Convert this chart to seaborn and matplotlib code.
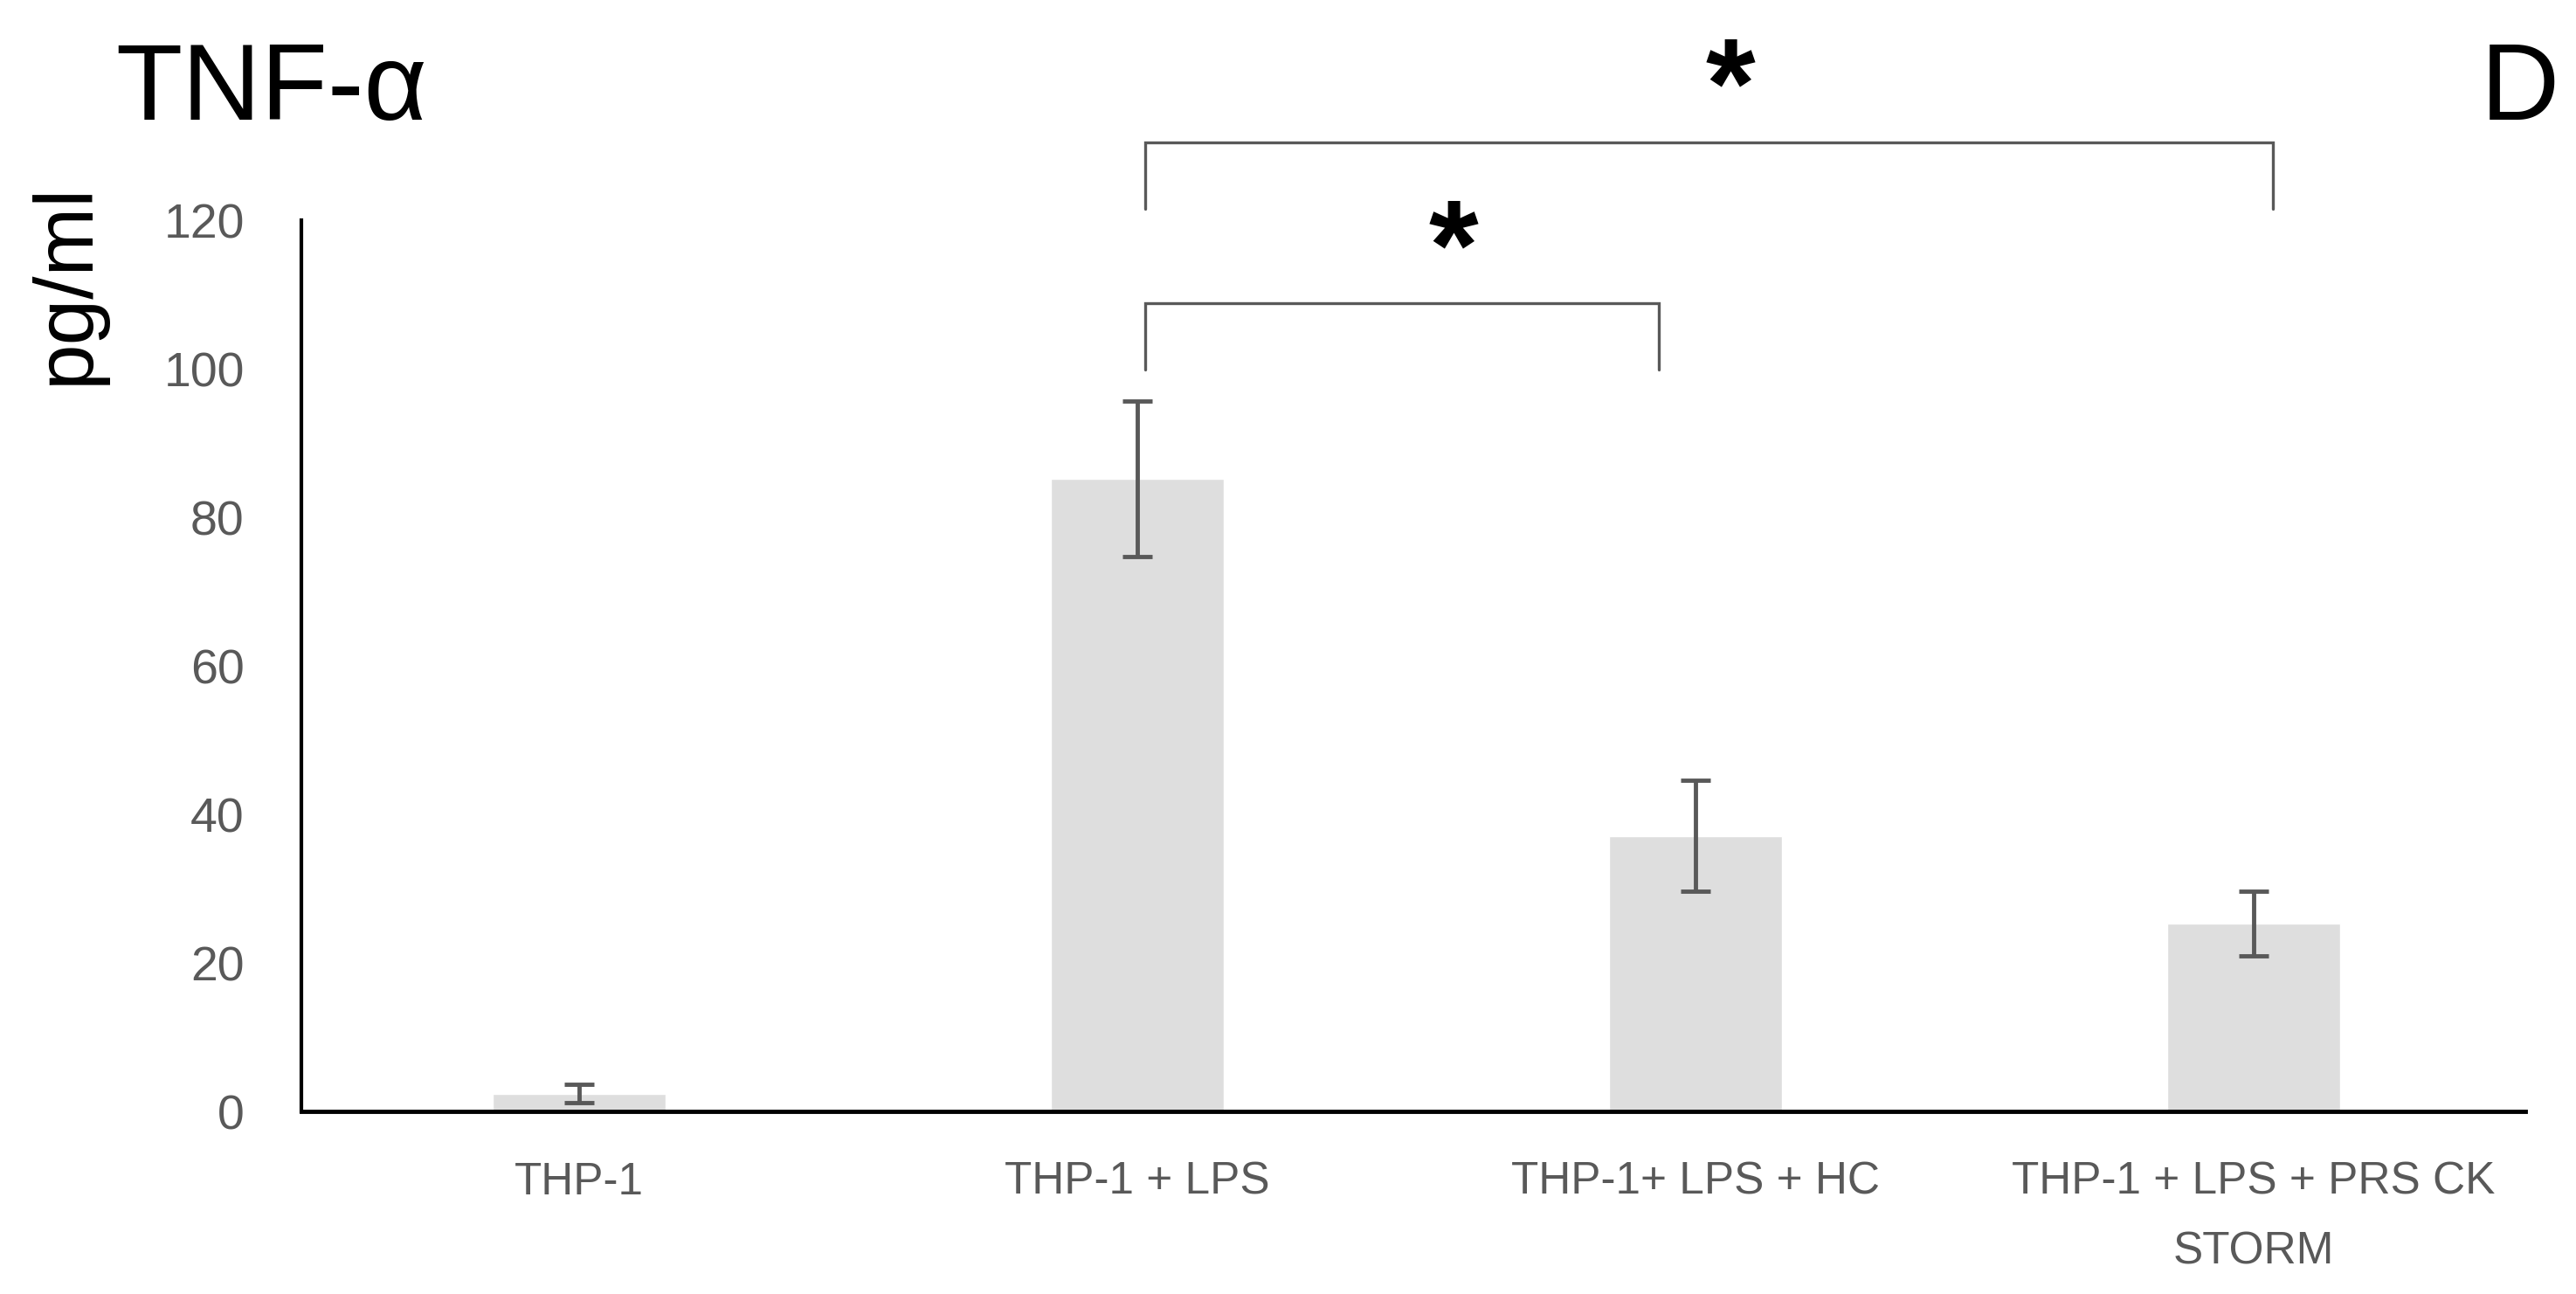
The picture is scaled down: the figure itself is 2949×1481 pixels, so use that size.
import matplotlib
matplotlib.use("Agg")
import matplotlib.pyplot as plt
from matplotlib import font_manager
import seaborn as sns
import pandas as pd

categories = ["THP-1", "THP-1 + LPS", "THP-1+ LPS + HC", "THP-1 + LPS + PRS CK\nSTORM"]
means = [2.4, 85.2, 37.1, 25.3]
errors = [1.2, 10.5, 7.5, 4.4]
yticks = [0, 20, 40, 60, 80, 100, 120]

sns.set_theme(style="white")
plt.rcParams['font.family'] = ['Liberation Sans', 'DejaVu Sans']

names = {f.name for f in font_manager.fontManager.ttflist}
if "Liberation Sans Narrow" in names:
    xfam, xsize = ["Liberation Sans Narrow", "Liberation Sans"], 45
else:
    xfam, xsize = ["Liberation Sans", "DejaVu Sans"], 37

df = pd.DataFrame({"group": categories, "value": means})

fig = plt.figure(figsize=(29.49, 14.81), dpi=100)
ax = fig.add_axes([0.11699, 0.14112, 0.86334, 0.68872])

sns.barplot(data=df, x="group", y="value", color="#dedede", saturation=1,
            width=0.31, errorbar=None, ax=ax)
ax.errorbar(range(len(categories)), means, yerr=errors, fmt="none",
            ecolor="#595959", elinewidth=3.5, capsize=12, capthick=3.5)

ax.set_xlim(-0.4977, 3.487)
ax.set_ylim(0, 120)
ax.set_yticks(yticks)
ax.set_yticklabels([str(t) for t in yticks], fontsize=40, color="#595959")
ax.set_xticks(range(len(categories)))
ax.set_xticklabels(categories, fontsize=xsize, color="#595959", family=xfam,
                   linespacing=1.8)
ax.tick_params(axis="y", length=0, pad=47)
ax.tick_params(axis="x", length=0, pad=41)
ax.set_xlabel("")
ax.set_ylabel("")
for s in ["top", "right"]:
    ax.spines[s].set_visible(False)
ax.spines["left"].set_color("black")
ax.spines["left"].set_linewidth(3)
ax.spines["bottom"].set_color("black")
ax.spines["bottom"].set_linewidth(3.5)

# significance brackets
def bracket(x1, x2, y_top, y_leg, star_x, star_y):
    ax.plot([x1, x1, x2, x2], [y_leg, y_top, y_top, y_leg], color="#595959",
            lw=2.4, clip_on=False, solid_joinstyle="miter")
    ax.text(star_x, star_y, "*", ha="center", va="center", fontsize=105,
            fontweight="bold", color="black", clip_on=False)

bracket(1.014, 1.935, 108.8, 99.9, 1.566, 115.2)
bracket(1.014, 3.034, 130.5, 121.5, 2.063, 137.0)

fig.text(0.0447, 0.9075, "TNF-α", fontsize=90, ha="left", va="baseline", color="black")
fig.text(0.963, 0.9075, "D", fontsize=90, ha="left", va="baseline", color="black")
fig.text(0.0258, 0.781, "pg/ml", fontsize=68, rotation=90, ha="center", va="center", color="black")

fig.savefig("out.png", dpi=100, facecolor="white")
